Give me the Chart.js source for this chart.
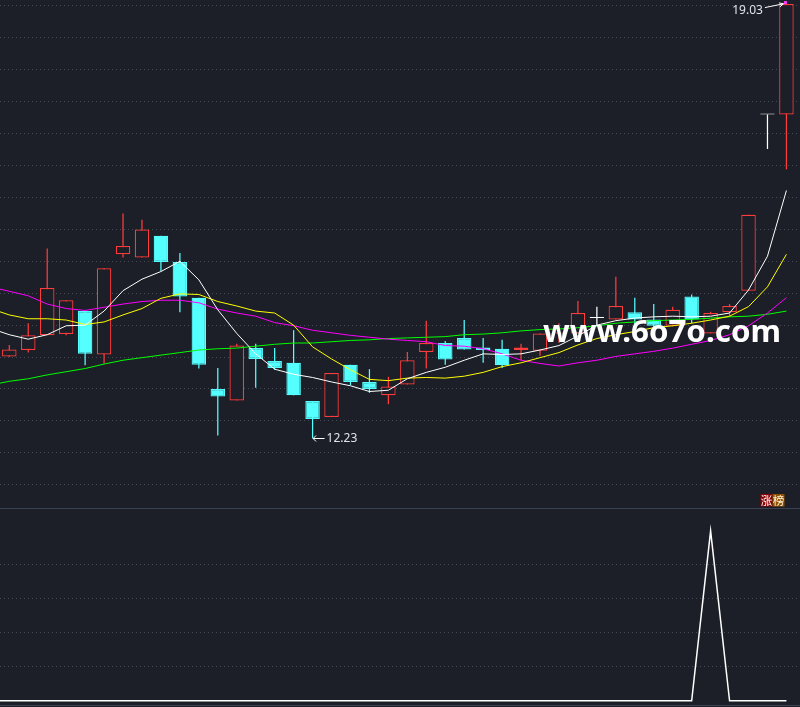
<!DOCTYPE html>
<html>
<head>
<meta charset="utf-8">
<title>K线</title>
<script src="https://cdn.jsdelivr.net/npm/chart.js@4/dist/chart.umd.min.js"></script>
<style>
  html, body { margin: 0; padding: 0; background: #1c1f27; overflow: hidden; }
  #wrap { position: relative; width: 800px; height: 707px; background: #1c1f27; }
  #wrap canvas { position: absolute; left: 0; }
  #price { top: 0; }
  #signal { top: 508px; }
</style>
</head>
<body>
<div id="wrap">
  <canvas id="price" width="800" height="508"></canvas>
  <canvas id="signal" width="800" height="199"></canvas>
</div>
<script>
// trading sessions shown on screen (0 = oldest)
const sessions = [0,1,2,3,4,5,6,7,8,9,10,11,12,13,14,15,16,17,18,19,20,
                  21,22,23,24,25,26,27,28,29,30,31,32,33,34,35,36,37,38,39,40,41];

// daily prices
const openP  = [13.51,13.61,13.84,13.86,14.22,13.54,15.11,15.06,15.40,14.99,14.43,13.00,12.82,13.64,13.44,13.41,12.81,12.56,13.38,13.11,12.90,
                13.07,13.58,13.72,13.80,13.65,13.63,13.61,13.60,13.87,13.87,14.11,14.09,14.20,14.09,13.99,14.45,13.87,14.20,14.54,17.30,17.30];
const highP  = [13.69,14.03,15.20,14.39,14.22,14.89,15.75,15.65,15.40,15.13,14.43,13.33,13.71,13.71,13.64,13.92,12.81,13.25,13.38,13.31,13.19,
                13.58,14.07,13.75,14.08,13.80,13.77,13.71,13.87,14.03,14.38,14.29,14.76,14.43,14.33,14.29,14.48,14.21,14.33,15.73,17.30,19.03];
const lowP   = [13.50,13.57,13.84,13.84,13.37,13.40,15.06,15.06,14.85,14.20,13.32,12.27,12.82,13.02,13.30,12.90,12.23,12.56,13.06,12.94,12.76,
                13.07,13.32,13.38,13.62,13.41,13.33,13.45,13.52,13.72,13.87,13.98,14.09,14.00,13.95,13.98,14.03,13.87,14.14,14.54,16.76,16.44];
const closeP = [13.62,13.84,14.58,14.39,13.55,14.89,15.24,15.50,14.99,14.45,13.38,12.88,13.68,13.47,13.33,12.90,12.53,13.25,13.11,13.00,13.04,
                13.45,13.72,13.46,13.62,13.61,13.37,13.65,13.87,13.885,14.19,14.11,14.30,14.09,13.99,14.24,14.09,14.19,14.30,15.73,17.30,19.03];

// moving averages, starting one session before the first visible candle
const maSessions = [-1].concat(sessions);
const ma5  = [13.95,13.85,13.78,13.85,13.99,14.00,14.22,14.54,14.72,14.84,15.00,14.71,14.24,13.87,13.55,13.31,13.23,13.18,13.11,13.05,12.96,12.98,
              13.16,13.26,13.34,13.45,13.55,13.54,13.55,13.61,13.68,13.83,14.00,14.07,14.11,14.13,14.14,14.13,14.14,14.19,14.55,15.08,16.11];
const ma10 = [14.26,14.16,14.10,14.10,14.08,14.01,14.05,14.16,14.26,14.42,14.49,14.48,14.37,14.30,14.22,14.19,14.00,13.66,13.47,13.30,13.15,13.13,
              13.17,13.18,13.17,13.20,13.26,13.35,13.41,13.49,13.57,13.69,13.79,13.85,13.90,13.96,13.99,14.03,14.08,14.14,14.29,14.60,15.11];
const ma20 = [14.60,14.53,14.46,14.33,14.26,14.23,14.28,14.33,14.37,14.39,14.39,14.35,14.25,14.19,14.14,14.04,13.99,13.92,13.88,13.84,13.81,13.78,
              13.76,13.74,13.68,13.67,13.63,13.55,13.45,13.40,13.36,13.41,13.45,13.51,13.55,13.59,13.64,13.70,13.76,13.85,13.99,14.19,14.43];
const ma60 = [13.06,13.12,13.16,13.22,13.27,13.32,13.39,13.45,13.49,13.53,13.57,13.61,13.63,13.64,13.67,13.70,13.72,13.72,13.74,13.76,13.77,13.79,
              13.80,13.81,13.82,13.85,13.86,13.88,13.91,13.93,13.94,13.96,13.99,14.03,14.05,14.07,14.08,14.09,14.11,14.13,14.14,14.17,14.22];

// sub-panel signal (same sessions as the moving averages)
const signal = [0,0,0,0,0,0,0,0,0,0,0,0,0,0,0,0,0,0,0,0,0,0,
                0,0,0,0,0,0,0,0,0,0,0,0,0,0,0,0,5,0,0,0,0];

// horizontal grid levels
const priceGrid  = [19.0,18.5,18.0,17.5,17.0,16.5,16.0,15.5,15.0,14.5,14.0,13.5,13.0,12.5,12.0,11.5];
const signalGrid = [1,2,3,4];

const BG = '#1c1f27';
const UP = '#ff3c3c';
const DOWN = '#54ffff';
const FLAT = '#ffffff';
const GRID = '#454a57';
const RULE = '#3a4150';

function tone(i) {
  if (closeP[i] > openP[i]) return UP;
  if (closeP[i] < openP[i]) return DOWN;
  return FLAT;
}

const xAxis = { type: 'linear', display: false, min: -0.4907, max: 41.716, offset: false };

function hLine(ctx, left, right, py) {
  ctx.beginPath();
  ctx.moveTo(left, py);
  ctx.lineTo(right, py);
  ctx.stroke();
}

const priceDecor = {
  id: 'priceDecor',
  beforeDatasetsDraw(chart) {
    const { ctx, chartArea, scales } = chart;
    ctx.save();
    ctx.strokeStyle = GRID;
    ctx.lineWidth = 1;
    ctx.setLineDash([1, 3]);
    for (const v of priceGrid) {
      hLine(ctx, chartArea.left, chartArea.right, Math.floor(scales.y.getPixelForValue(v)) + 0.5);
    }
    ctx.restore();
  },
  afterDatasetsDraw(chart) {
    const { ctx, scales } = chart;
    const x = scales.x, y = scales.y;
    ctx.save();

    // site mark
    const mark = 'www.6o7o.com';
    ctx.font = 'bold 30px "Noto Sans", "Open Sans", sans-serif';
    ctx.textBaseline = 'alphabetic';
    ctx.textAlign = 'left';
    const w = ctx.measureText(mark).width;
    ctx.save();
    ctx.translate(543, 341.5);
    ctx.scale(238 / w, 1);
    ctx.fillStyle = '#ffffff';
    ctx.fillText(mark, 0, 0);
    ctx.restore();

    // highest price marker
    const hiIdx = highP.indexOf(Math.max(...highP));
    const hx = x.getPixelForValue(sessions[hiIdx]);
    const hy = y.getPixelForValue(highP[hiIdx]);
    ctx.fillStyle = '#ff3cff';
    ctx.fillRect(hx - 2.5, hy - 3, 3, 3);
    ctx.strokeStyle = '#ffffff';
    ctx.lineWidth = 1;
    ctx.beginPath();
    ctx.moveTo(hx - 21.5, hy + 3.5);
    ctx.lineTo(hx - 3, hy - 0.3);
    ctx.moveTo(hx - 3, hy - 0.3);
    ctx.lineTo(hx - 7.5, hy - 1.2);
    ctx.moveTo(hx - 3, hy - 0.3);
    ctx.lineTo(hx - 6.5, hy + 2.8);
    ctx.stroke();
    ctx.font = '12px "Noto Sans", "Liberation Sans", sans-serif';
    ctx.fillStyle = '#dfe4ec';
    ctx.textAlign = 'right';
    ctx.textBaseline = 'middle';
    ctx.fillText(highP[hiIdx].toFixed(2), hx - 23.5, hy + 6.8);

    // lowest price marker
    const loIdx = lowP.indexOf(Math.min(...lowP));
    const lx = x.getPixelForValue(sessions[loIdx]) + 0.5;
    const ly = Math.round(y.getPixelForValue(lowP[loIdx])) + 0.5;
    ctx.beginPath();
    ctx.moveTo(lx, ly);
    ctx.lineTo(lx + 11.5, ly);
    ctx.moveTo(lx, ly);
    ctx.lineTo(lx + 3, ly - 3);
    ctx.moveTo(lx, ly);
    ctx.lineTo(lx + 3, ly + 3);
    ctx.stroke();
    ctx.textAlign = 'left';
    ctx.fillText(lowP[loIdx].toFixed(2), lx + 13.5, ly + 0.5);

    // tag in the lower right corner
    ctx.fillStyle = '#8c0000';
    ctx.fillRect(760.5, 494, 12, 12.5);
    ctx.fillStyle = '#8f5200';
    ctx.fillRect(772.5, 494, 12, 12.5);
    ctx.font = '11.5px "Noto Sans CJK SC", sans-serif';
    ctx.textAlign = 'center';
    ctx.textBaseline = 'middle';
    ctx.fillStyle = '#ffffff';
    ctx.fillText('涨', 766.5, 500.5);
    ctx.fillStyle = '#fff2d8';
    ctx.fillText('榜', 778.5, 500.5);

    ctx.restore();
  }
};

const signalDecor = {
  id: 'signalDecor',
  beforeDatasetsDraw(chart) {
    const { ctx, chartArea, scales } = chart;
    ctx.save();
    ctx.lineWidth = 1;
    ctx.strokeStyle = RULE;
    hLine(ctx, chartArea.left, chartArea.right, 0.5);
    hLine(ctx, chartArea.left, chartArea.right, 197.5);
    ctx.strokeStyle = GRID;
    ctx.setLineDash([1, 3]);
    for (const v of signalGrid) {
      hLine(ctx, chartArea.left, chartArea.right, Math.floor(scales.y.getPixelForValue(v)) + 0.5);
    }
    ctx.restore();
  }
};

function lineSet(values, color) {
  return {
    type: 'line',
    data: maSessions.map((s, i) => ({ x: s, y: values[i] })),
    borderColor: color,
    borderWidth: 1,
    pointRadius: 0,
    tension: 0,
    fill: false,
    order: 0
  };
}

new Chart(document.getElementById('price'), {
  type: 'bar',
  data: {
    datasets: [
      {
        type: 'bar',
        data: sessions.map(i => ({ x: i, y: [lowP[i], highP[i]] })),
        backgroundColor: sessions.map(tone),
        borderWidth: 0,
        barThickness: 1.25,
        grouped: false,
        inflateAmount: 0,
        order: 2
      },
      {
        type: 'bar',
        data: sessions.map(i => ({ x: i, y: [openP[i], closeP[i]] })),
        backgroundColor: sessions.map(i => tone(i) === UP ? BG : tone(i)),
        borderColor: sessions.map(tone),
        borderWidth: 1.25,
        borderSkipped: false,
        barThickness: 14.5,
        minBarLength: 1,
        grouped: false,
        inflateAmount: 0,
        order: 1
      },
      lineSet(ma5, '#ffffff'),
      lineSet(ma10, '#ffff00'),
      lineSet(ma20, '#ff00ff'),
      lineSet(ma60, '#00ff00')
    ]
  },
  options: {
    responsive: false,
    devicePixelRatio: 1,
    animation: false,
    layout: { padding: 0 },
    plugins: { legend: { display: false }, tooltip: { enabled: false } },
    scales: {
      x: xAxis,
      y: { type: 'linear', display: false, min: 11.135, max: 19.094 }
    }
  },
  plugins: [priceDecor]
});

new Chart(document.getElementById('signal'), {
  type: 'line',
  data: {
    datasets: [{
      data: maSessions.map((s, i) => ({ x: s, y: signal[i] })),
      borderColor: '#ffffff',
      borderWidth: 1.5,
      pointRadius: 0,
      tension: 0,
      fill: false
    }]
  },
  options: {
    responsive: false,
    devicePixelRatio: 1,
    animation: false,
    layout: { padding: 0 },
    plugins: { legend: { display: false }, tooltip: { enabled: false } },
    scales: {
      x: xAxis,
      y: { type: 'linear', display: false, min: -0.182, max: 5.671 }
    }
  },
  plugins: [signalDecor]
});
</script>
</body>
</html>
